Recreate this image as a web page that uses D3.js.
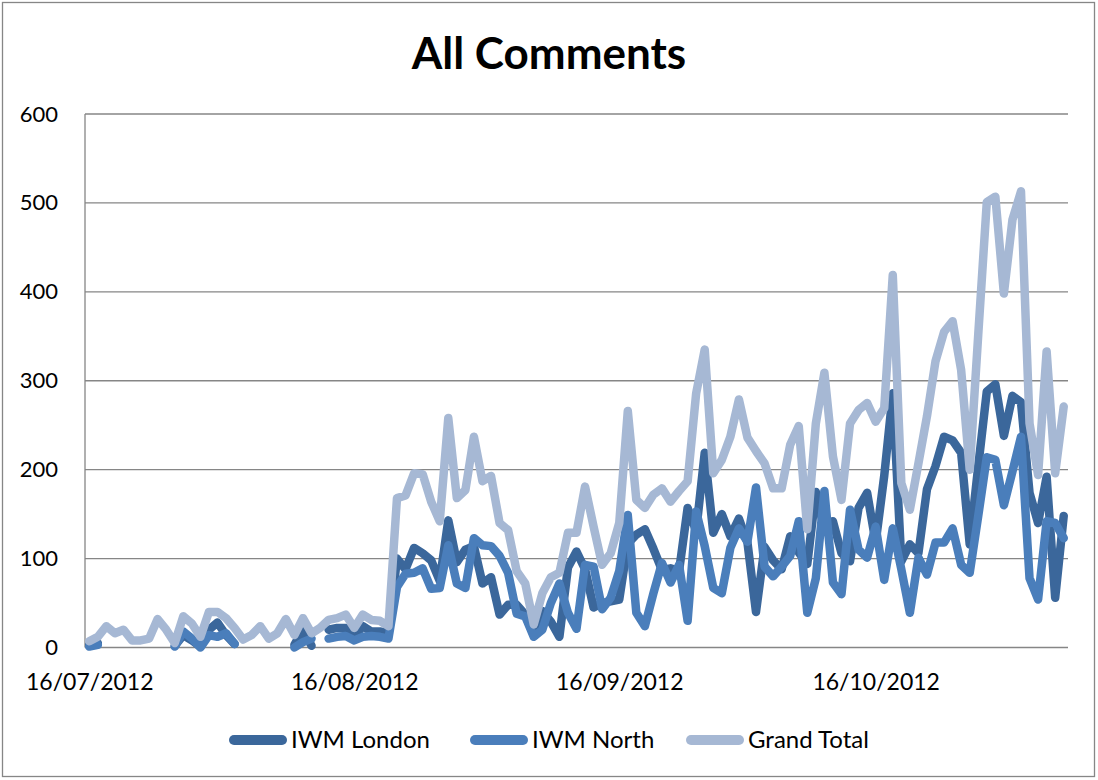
<!DOCTYPE html>
<html>
<head>
<meta charset="utf-8">
<script src="https://cdn.jsdelivr.net/npm/d3@7"></script>
<style>
  html, body { margin: 0; padding: 0; background: #fff; }
  svg { display: block; }
  text { font-family: Lato, "Open Sans", "Liberation Sans", sans-serif; fill: #000; }
</style>
</head>
<body>
<svg id="chart" width="1098" height="780"></svg>
<script>
// Daily comment counts, one value per day starting 16/07/2012 (null = no entry)
const firstDay = "2012-07-16";
const dayCount = 115;

const iwmLondon = [
  3, 5, null, null, null, null, null, null, null, null,
  2, 14, 8, 1, 20, 28, 14, 4, null, null,
  null, null, null, null, 3, 20, 2, null, 20, 22,
  22, 12, 24, 18, 18, 16, 100, 88, 112, 106,
  98, 75, 143, 96, 110, 114, 72, 79, 37, 48,
  48, 37, 14, 41, 29, 12, 90, 108, 88, 45,
  50, 52, 54, 117, 127, 133, 111, 87, 89, 86,
  157, 131, 219, 129, 150, 125, 145, 118, 40, 113,
  98, 88, 125, 107, 94, 175, 132, 142, 106, 97,
  157, 174, 118, 193, 286, 97, 116, 106, 178, 204,
  237, 233, 219, 116, 204, 288, 296, 238, 283, 276,
  174, 140, 192, 56, 148
];

const iwmNorth = [
  1, 3, null, null, null, null, null, null, null, null,
  1, 18, 10, 0, 14, 12, 16, 4, null, null,
  null, null, null, null, 0, 6, 10, null, 10, 12,
  13, 8, 12, 13, 12, 10, 68, 83, 84, 89,
  66, 67, 115, 72, 67, 123, 115, 114, 103, 84,
  38, 35, 12, 20, 50, 72, 39, 21, 93, 91,
  43, 56, 86, 149, 39, 24, 61, 95, 73, 93,
  30, 153, 114, 67, 61, 112, 134, 119, 180, 91,
  80, 91, 103, 142, 39, 78, 176, 73, 60, 155,
  110, 101, 136, 76, 134, 88, 39, 101, 82, 118,
  118, 134, 93, 84, 148, 214, 211, 160, 198, 237,
  78, 54, 142, 140, 123
];

const grandTotal = [
  7, 12, 24, 16, 20, 8, 8, 10, 32, 20,
  5, 35, 27, 12, 40, 40, 33, 22, 9, 14,
  24, 10, 16, 32, 14, 33, 16, 22, 31, 33,
  37, 22, 37, 31, 30, 24, 168, 171, 196, 195,
  164, 142, 258, 168, 177, 237, 187, 193, 140, 132,
  86, 72, 26, 61, 79, 84, 129, 129, 181, 136,
  93, 106, 140, 266, 166, 157, 172, 179, 164, 176,
  187, 286, 335, 196, 211, 237, 279, 236, 221, 207,
  179, 179, 228, 249, 133, 252, 309, 215, 166, 252,
  267, 275, 254, 269, 419, 185, 155, 207, 260, 322,
  355, 367, 312, 200, 352, 501, 507, 398, 481, 513,
  252, 194, 333, 196, 271
];

const seriesNames = ["IWM London", "IWM North", "Grand Total"];
const seriesColors = ["#3b679b", "#4a7ebb", "#a6b8d4"];
const xTickLabels = ["16/07/2012", "16/08/2012", "16/09/2012", "16/10/2012"];
const yTicks = [0, 100, 200, 300, 400, 500, 600];

// Layout
const plot = { left: 85, right: 1068, top: 114, bottom: 647.5 };

const svg = d3.select("#chart");

// Outer chart frame
svg.append("rect")
  .attr("x", 2.5).attr("y", 2.5)
  .attr("width", 1092).attr("height", 774)
  .attr("fill", "#fff").attr("stroke", "#868686").attr("stroke-width", 1.3);

const parse = d3.timeParse("%Y-%m-%d");
const start = parse(firstDay);
const days = d3.range(dayCount).map(i => d3.timeDay.offset(start, i));
const halfDay = 12 * 3600 * 1000;

const x = d3.scaleTime()
  .domain([new Date(+days[0] - halfDay), new Date(+days[days.length - 1] + halfDay)])
  .range([plot.left, plot.right]);

const y = d3.scaleLinear()
  .domain([0, 600])
  .range([plot.bottom, plot.top]);

// Horizontal gridlines
svg.append("g")
  .selectAll("line")
  .data(yTicks)
  .join("line")
  .attr("x1", plot.left).attr("x2", plot.right)
  .attr("y1", d => y(d)).attr("y2", d => y(d))
  .attr("stroke", "#868686").attr("stroke-width", 1.3);

// Left axis line
svg.append("line")
  .attr("x1", plot.left).attr("x2", plot.left)
  .attr("y1", plot.top).attr("y2", plot.bottom)
  .attr("stroke", "#868686").attr("stroke-width", 1.3);

// Y axis labels
const yAxis = d3.axisLeft(y).tickValues(yTicks).tickSize(0).tickPadding(27);
const gy = svg.append("g").attr("transform", `translate(${plot.left},0)`).call(yAxis);
gy.select(".domain").remove();
gy.selectAll("text").style("font-size", "22px").attr("fill", "#000");

// X axis labels at the 16th of each month
const tickDates = xTickLabels.map(s => d3.timeParse("%d/%m/%Y")(s));
const xAxis = d3.axisBottom(x).tickValues(tickDates).tickFormat(d3.timeFormat("%d/%m/%Y")).tickSize(0).tickPadding(26);
const gx = svg.append("g").attr("transform", `translate(0,${plot.bottom})`).call(xAxis);
gx.select(".domain").remove();
gx.selectAll("text").style("font-size", "23px").attr("fill", "#000");

// Series lines (drawn in order so Grand Total sits on top)
const seriesData = [iwmLondon, iwmNorth, grandTotal];
const line = d3.line()
  .defined(d => d.v !== null)
  .x(d => x(d.date))
  .y(d => y(d.v));

seriesData.forEach((vals, k) => {
  const pts = vals.map((v, i) => ({ date: days[i], v }));
  svg.append("path")
    .datum(pts)
    .attr("d", line)
    .attr("fill", "none")
    .attr("stroke", seriesColors[k])
    .attr("stroke-width", 8.5)
    .attr("stroke-linejoin", "round")
    .attr("stroke-linecap", "round");
});

// Title
svg.append("text")
  .attr("x", 549).attr("y", 69)
  .attr("text-anchor", "middle")
  .style("font-size", "44px").style("font-weight", "bold")
  .text("All Comments");

// Legend
const legendX = [229, 470, 686];
const lg = svg.append("g");
seriesNames.forEach((name, k) => {
  const g = lg.append("g").attr("transform", `translate(${legendX[k]},740)`);
  g.append("line")
    .attr("x1", 5).attr("x2", 53).attr("y1", 0).attr("y2", 0)
    .attr("stroke", seriesColors[k]).attr("stroke-width", 10)
    .attr("stroke-linecap", "round");
  g.append("text")
    .attr("x", 62).attr("y", 0).attr("dy", "0.35em")
    .style("font-size", "24px")
    .text(name);
});
</script>
</body>
</html>
